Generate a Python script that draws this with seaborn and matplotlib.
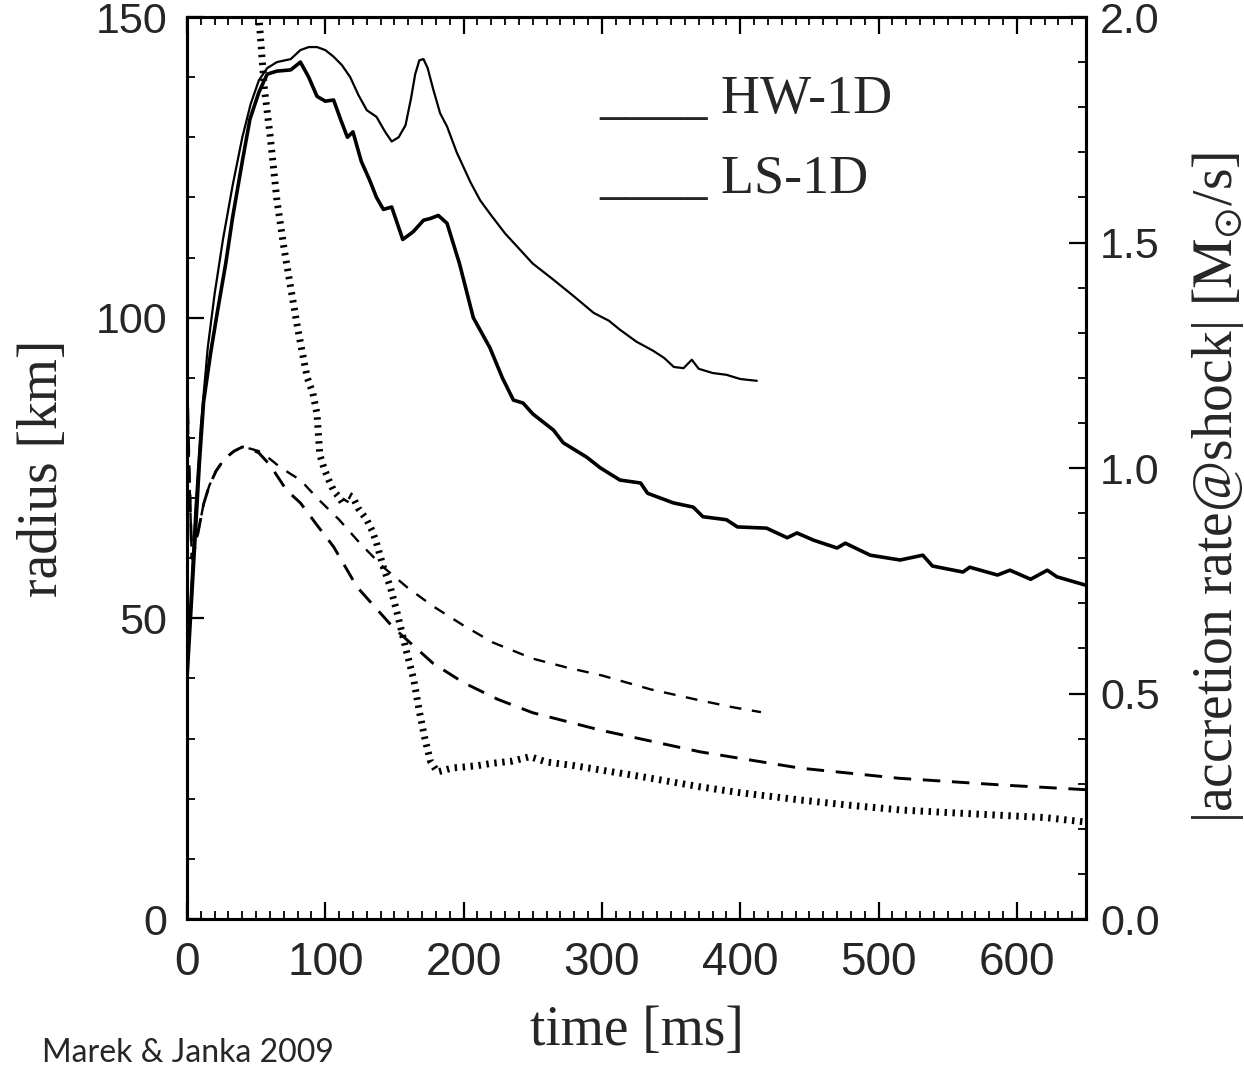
import matplotlib
matplotlib.use("Agg")
import matplotlib.pyplot as plt
from matplotlib.ticker import MultipleLocator, FixedLocator
import seaborn as sns

# ---------------- data ----------------
# shock radius HW-1D (thin solid)
hw_time = [0, 3, 6, 10, 15, 20, 26, 33, 40, 46, 52, 58, 65, 75, 82, 88, 94, 100, 106, 112,
           118, 124, 130, 137, 143, 148, 153, 158, 162, 165, 168, 171, 174, 178, 183, 188, 195, 205, 212, 220, 230,
           240, 250, 265, 280, 294, 305, 313, 325, 337, 345, 352, 359, 365, 370, 380, 390, 400, 412]
hw_radius = [40, 55, 68, 82, 95, 104, 113, 122, 130, 135.5, 139.5, 141.5, 142.5, 143, 144.5, 145, 145, 144.5, 143.4, 142,
             140, 137, 134.5, 133.4, 131, 129.3, 130, 132, 136.5, 140.5, 142.8, 143, 141.5, 138, 134, 131.8, 127.5, 122.5, 119.5, 117, 114,
             111.5, 109, 106.3, 103.5, 100.8, 99.5, 98, 96, 94.5, 93.3, 91.8, 91.6, 93, 91.5, 90.8, 90.5, 89.8, 89.5]

# shock radius LS-1D (thick solid)
ls_time = [0, 3, 6, 9, 12, 17, 22, 28, 33, 40, 45.5, 52, 58, 65, 75, 82, 88, 94, 100, 106,
           111, 116, 120, 126, 132, 137, 142, 148, 156, 163.6, 171, 176, 181.7, 188, 197, 207, 219, 228, 236, 243,
           250, 265, 272, 289, 299, 313, 328, 333, 351.6, 366, 373, 390, 398, 419, 434, 441, 453, 470, 476, 494,
           515.6, 532, 539, 561, 566, 586, 595, 610, 622, 629, 650]
ls_radius = [40, 52, 64, 76, 86, 94, 101, 109, 116.7, 126, 133, 137.5, 140.5, 141, 141.2, 142.5, 140, 136.8, 136, 136.2,
             133, 130, 130.9, 126, 122.9, 120, 118, 118.4, 113, 114.3, 116.2, 116.5, 117, 115.7, 109, 100, 95, 90, 86.3, 85.8,
             84, 81.3, 79.2, 76.8, 75, 73, 72.5, 70.8, 69.2, 68.5, 66.9, 66.4, 65.2, 65, 63.4, 64.2, 63, 61.7, 62.5, 60.5,
             59.7, 60.5, 58.7, 57.7, 58.5, 57.2, 58, 56.5, 58, 56.9, 55.5]

# dashed radius, HW-1D (ends at ~415 ms)
hw_dash_time = [0, 1.5, 3.5, 6, 9, 12, 16, 21, 27, 34, 40, 46, 52, 60, 67, 75, 82, 95, 110, 125,
                142, 160, 178, 200, 221, 250, 275, 300, 335, 370, 395, 415]
hw_dash_radius = [90, 75, 60, 62, 65.5, 69, 72, 74.5, 76.5, 77.8, 78.5, 78.2, 77.8, 76.5, 75.2, 74, 73, 69.8, 66.4, 62.5,
                  58.5, 55, 52, 48.8, 46, 43.3, 41.8, 40.5, 38.2, 36.4, 35.2, 34.4]

# dashed radius, LS-1D
ls_dash_time = [0, 1.5, 3.5, 6, 9, 12, 16, 21, 27, 34, 40, 46, 52, 60, 72, 82, 94, 106, 123, 149,
                178, 200, 225, 250, 299, 371, 443, 515, 588, 650]
ls_dash_radius = [90, 75, 60, 62, 65.5, 69, 72, 74.5, 76.5, 77.8, 78.5, 78.2, 77.5, 75.5, 71.3, 69.2, 65.5, 61.9, 55.2, 48.5,
                  42.5, 39.3, 36.5, 34.3, 31.4, 27.8, 25.1, 23.4, 22.3, 21.5]

# |accretion rate @ shock| [Msun/s] (dotted, right axis)
acc_time = [44, 48, 52, 56, 60, 65, 70, 75, 80, 85, 87, 91, 94, 96, 99, 103, 106, 110, 113, 117,
            120, 124, 130, 134, 137, 142, 147, 152, 159, 164, 168, 172, 176, 181, 186, 192, 200, 210, 220, 235,
            248, 260, 280, 300, 330, 371, 400, 443, 480, 515, 550, 588, 620, 650]
acc_rate = [2.25, 2.12, 2.0, 1.84, 1.74, 1.594, 1.49, 1.40, 1.31, 1.23, 1.20, 1.166, 1.12, 1.03, 1.0, 0.97, 0.95, 0.935, 0.92, 0.94,
            0.935, 0.91, 0.885, 0.86, 0.834, 0.78, 0.736, 0.678, 0.59, 0.53, 0.46, 0.40, 0.35, 0.326, 0.33, 0.335, 0.337, 0.34, 0.345, 0.35,
            0.36, 0.348, 0.34, 0.33, 0.315, 0.293, 0.28, 0.264, 0.252, 0.242, 0.236, 0.23, 0.225, 0.215]

x_ticks = [0, 100, 200, 300, 400, 500, 600]
left_ticks = [0, 50, 100, 150]
right_ticks = [0.0, 0.5, 1.0, 1.5, 2.0]
right_tick_labels = ["0.0", "0.5", "1.0", "1.5", "2.0"]
legend_labels = ["HW-1D", "LS-1D"]

# ---------------- style ----------------
sns.set_style("ticks")
plt.rcParams["font.family"] = ["Liberation Sans", "DejaVu Sans"]
plt.rcParams["mathtext.fontset"] = "stix"
SERIF = ["Liberation Serif", "DejaVu Serif"]

fig = plt.figure(figsize=(12.44, 10.73), dpi=100)
fig.patch.set_facecolor("white")
ax = fig.add_axes([0.15032, 0.14352, 0.72267, 0.84063])
ax2 = ax.twinx()

# ---------------- lines ----------------
sns.lineplot(x=hw_time, y=hw_radius, ax=ax, color="black", linewidth=1.6,
             estimator=None, sort=False)
sns.lineplot(x=ls_time, y=ls_radius, ax=ax, color="black", linewidth=2.6,
             estimator=None, sort=False)
sns.lineplot(x=hw_dash_time, y=hw_dash_radius, ax=ax, color="black", linewidth=1.7,
             linestyle=(0, (5, 4.5)), estimator=None, sort=False)
sns.lineplot(x=ls_dash_time, y=ls_dash_radius, ax=ax, color="black", linewidth=2.1,
             linestyle=(0, (6, 4)), estimator=None, sort=False)
sns.lineplot(x=acc_time, y=acc_rate, ax=ax2, color="black", linewidth=5.0,
             linestyle=(0, (0.35, 0.8)), dash_capstyle="butt", estimator=None, sort=False)

# ---------------- axes ----------------
ax.set_xlim(0, 650)
ax.set_ylim(0, 150)
ax2.set_ylim(0, 2.0)

ax.xaxis.set_major_locator(FixedLocator(x_ticks))
ax.xaxis.set_minor_locator(MultipleLocator(10))
ax.yaxis.set_major_locator(FixedLocator(left_ticks))
ax.yaxis.set_minor_locator(MultipleLocator(10))
ax2.yaxis.set_major_locator(FixedLocator(right_ticks))
ax2.set_yticklabels(right_tick_labels)
ax2.yaxis.set_minor_locator(MultipleLocator(0.1))

for a in (ax, ax2):
    for sp in a.spines.values():
        sp.set_visible(True)
        sp.set_linewidth(2.2)
        sp.set_color("black")

ax.tick_params(axis="x", which="both", direction="in", top=True, bottom=True,
               labeltop=False, labelbottom=True, color="black")
ax.tick_params(axis="y", which="both", direction="in", left=True, right=False,
               labelleft=True, labelright=False, color="black")
ax.tick_params(which="major", length=12, width=1.6)
ax.tick_params(which="minor", length=6, width=1.3)
ax.tick_params(axis="x", labelsize=33, pad=16)
ax.tick_params(axis="y", labelsize=31, pad=14)

ax2.tick_params(axis="y", which="both", direction="in", right=True, left=False,
                labelright=True, labelleft=False, color="black")
ax2.tick_params(which="major", length=12, width=1.6)
ax2.tick_params(which="minor", length=6, width=1.3)
ax2.tick_params(axis="y", labelsize=31, pad=10)

ax.set_xlabel("time [ms]", fontsize=40, family=SERIF)
ax.xaxis.set_label_coords(0.5, -0.095)
ax.set_ylabel("radius [km]", fontsize=40, family=SERIF)
ax.yaxis.set_label_coords(-0.131, 0.5)
ax2.set_ylabel(r"|accretion rate@shock| [$\mathrm{M}_{\odot}$/s]", fontsize=40, family=SERIF)
ax2.yaxis.set_label_coords(1.116, 0.478)

# legend drawn as in the original (rule + label)
ax.text(0.459, 0.8936, "____ " + legend_labels[0], transform=ax.transAxes,
        fontsize=39, family=SERIF, va="baseline", ha="left")
ax.text(0.459, 0.805, "____ " + legend_labels[1], transform=ax.transAxes,
        fontsize=39, family=SERIF, va="baseline", ha="left")

fig.text(42 / 1244, 0.010, "Marek & Janka 2009", fontsize=23,
         family=["Liberation Sans Narrow", "Lato", "DejaVu Sans"], ha="left", va="baseline")

fig.savefig("out.png", dpi=100, facecolor="white")
